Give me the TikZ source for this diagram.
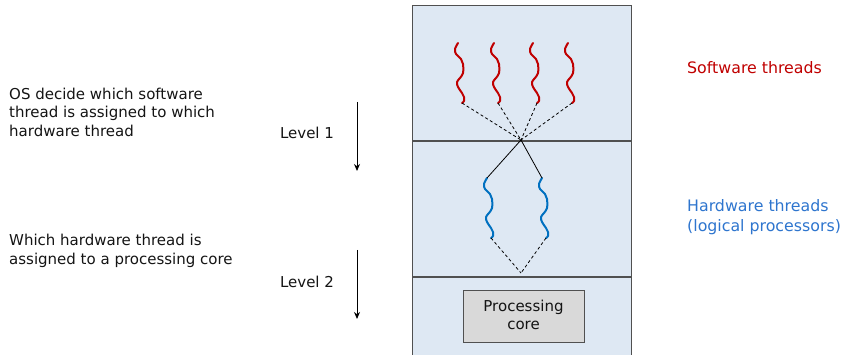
\documentclass[tikz,border=0pt]{standalone}
\usepackage{fontspec}
\setmainfont{DejaVu Sans}
\usetikzlibrary{arrows.meta}
\definecolor{boxblue}{RGB}{222,232,243}
\definecolor{swred}{RGB}{192,0,0}
\definecolor{hwblue}{RGB}{0,112,192}
\definecolor{txtblue}{RGB}{46,117,206}
\definecolor{coregray}{RGB}{217,217,217}
\definecolor{edgegray}{RGB}{80,80,80}
\definecolor{txtgray}{RGB}{20,20,20}
\tikzset{
  squig/.pic={
    \draw[pic actions, line cap=round, line join=round] plot[smooth, tension=0.6] coordinates
      {(0,0) (-3,6) (-2,11) (3,16) (5,21) (5,30) (2,35) (-1,39) (0,44) (4,50) (6,54) (6,58) (4,60)};
    \coordinate (-top) at (0,0);
    \coordinate (-end) at (4,60);
  }
}
\begin{document}
\begin{tikzpicture}[x=1pt,y=-1pt,
  every node/.style={font=\fontsize{15}{18.5}\selectfont, text=txtgray},
  layer/.style={draw=edgegray, fill=boxblue, line width=1pt, minimum width=219pt, inner sep=0pt, outer sep=0pt},
  sep/.style={draw=edgegray, line width=2pt},
  corebox/.style={draw=edgegray, fill=coregray, line width=1pt, minimum width=121pt, minimum height=52pt, align=center, inner sep=0pt},
  swthread/.style={swred, line width=2pt},
  hwthread/.style={hwblue, line width=2pt},
  dashline/.style={black, line width=0.8pt, dash pattern=on 3pt off 2.5pt},
  link/.style={black, line width=0.8pt},
  lvlarrow/.style={black, line width=1pt, -{Stealth[length=7pt,width=6pt]}},
  plain/.style={anchor=west, align=left, inner sep=0pt},
  sidelabel/.style={plain, font=\fontsize{15.8}{19.5}\selectfont}
]
\useasboundingbox (0,0) rectangle (844,355);

% layers
\node[layer, minimum height=135pt] (top) at (521.5,73.5) {};
\node[layer, minimum height=136pt] (mid) at (521.5,209) {};
\node[layer, minimum height=80pt] (bot) at (521.5,317) {};
\draw[sep] (top.south west) -- (top.south east);
\draw[sep] (mid.south west) -- (mid.south east);

\node[corebox] (core) at (523.5,317) {\raisebox{2pt}{\begin{tabular}{@{}c@{}}Processing\\[-1pt]core\end{tabular}}};

% junctions
\coordinate (j1) at (521,140);
\coordinate (j2) at (521,273);

% software threads
\pic[swthread] (r1) at (458,43) {squig};
\pic[swthread] (r2) at (494,43) {squig};
\pic[swthread] (r3) at (533,43) {squig};
\pic[swthread] (r4) at (568,43) {squig};
\foreach \r in {r1,r2,r3,r4} \draw[dashline] (\r-end) -- (j1);

% hardware threads
\pic[hwthread] (h1) at (487,178) {squig};
\pic[hwthread] (h2) at (542,178) {squig};
\draw[link] (j1) -- (h1-top);
\draw[link] (j1) -- (h2-top);
\draw[dashline] (h1-end) -- (j2);
\draw[dashline] (h2-end) -- (j2);

% left texts
\node[plain] (os) at (9,112) {OS decide which software\\thread is assigned to which\\hardware thread};
\node[plain] (which) at (9,251) {Which hardware thread is\\assigned to a processing core};
\node (l1) at (307,133) {Level 1};
\node (l2) at (307,282) {Level 2};
\coordinate (a1s) at (357,102);
\coordinate (a1e) at (357,171);
\coordinate (a2s) at (357,250);
\coordinate (a2e) at (357,319);
\draw[lvlarrow] (a1s) -- (a1e);
\draw[lvlarrow] (a2s) -- (a2e);

% right texts
\node[sidelabel, text=swred] (swl) at (687,68) {Software threads};
\node[sidelabel, text=txtblue] (hwl) at (687,217) {Hardware threads\\(logical processors)};
\end{tikzpicture}
\end{document}
